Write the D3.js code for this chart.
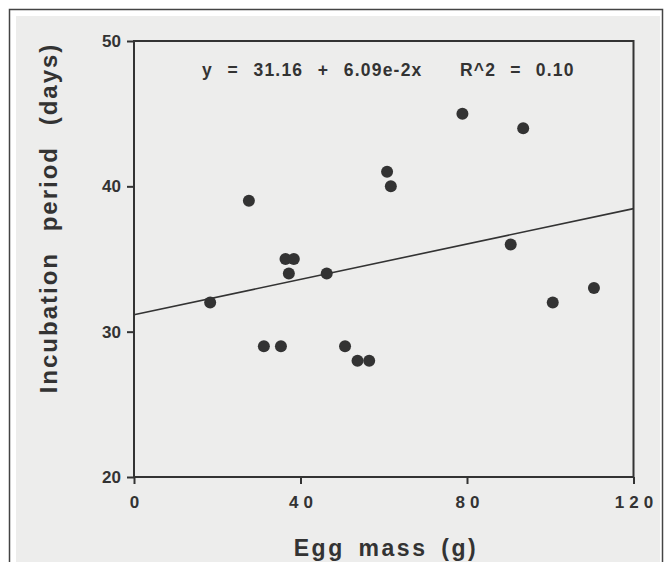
<!DOCTYPE html>
<html>
<head>
<meta charset="utf-8">
<script src="https://cdn.jsdelivr.net/npm/d3@7"></script>
<style>
  html, body { margin: 0; padding: 0; background: #ffffff; }
  svg { display: block; }
  text { font-family: "Liberation Sans", Arial, Helvetica, sans-serif; fill: #333; }
</style>
</head>
<body>
<svg id="chart" width="665" height="562"></svg>
<script>
// ---- data ----
const eggMass    = [18.3, 27.6, 31.2, 35.3, 36.4, 38.4, 37.2, 46.3, 50.7, 53.7, 56.5, 60.8, 61.7, 78.9, 93.5, 90.5, 110.5, 100.6];
const incubation = [32, 39, 29, 29, 35, 35, 34, 34, 29, 28, 28, 41, 40, 45, 44, 36, 33, 32];
const xTicks = [0, 40, 80, 120];
const yTicks = [20, 30, 40, 50];
const intercept = 31.16;
const slope = 0.0609;
const equationText = "y = 31.16 + 6.09e-2x";
const r2Text = "R^2 = 0.10";
const xTitle = "Egg mass (g)";
const yTitle = "Incubation period (days)";

const svg = d3.select("#chart");
const ink = "#333333";

// page / scan background
svg.append("rect").attr("x", 9.5).attr("y", 9.5).attr("width", 653).attr("height", 600)
  .attr("fill", "#ffffff").attr("stroke", "#444").attr("stroke-width", 1.5);
svg.append("rect").attr("x", 16).attr("y", 16).attr("width", 644).attr("height", 560)
  .attr("fill", "#ededec");

const x = d3.scaleLinear().domain([0, 120]).range([134, 633.5]);
const y = d3.scaleLinear().domain([20, 50]).range([477, 41]);

// axes
const gx = svg.append("g").attr("transform", `translate(0,${y(20)})`)
  .call(d3.axisBottom(x).tickValues(xTicks).tickSize(7).tickSizeOuter(0).tickPadding(12));
const gy = svg.append("g").attr("transform", `translate(${x(0)},0)`)
  .call(d3.axisLeft(y).tickValues(yTicks).tickSize(7).tickSizeOuter(0).tickPadding(6));

[gx, gy].forEach(g => {
  g.select(".domain").remove();
  g.selectAll(".tick line").attr("stroke", ink).attr("stroke-width", 2);
  g.selectAll(".tick text").attr("fill", ink).style("font-weight", "bold")
    .style("font-family", '"Liberation Sans", Arial, sans-serif');
});
gx.selectAll(".tick text").style("font-size", "17px").style("letter-spacing", "5px")
  .attr("dx", "2.5px");
gy.selectAll(".tick text").style("font-size", "17px");

// frame
svg.append("rect")
  .attr("x", x(0)).attr("y", y(50))
  .attr("width", x(120) - x(0)).attr("height", y(20) - y(50))
  .attr("fill", "none").attr("stroke", ink).attr("stroke-width", 2);

// regression line
svg.append("line")
  .attr("x1", x(0)).attr("y1", y(intercept + slope * 0))
  .attr("x2", x(120)).attr("y2", y(intercept + slope * 120))
  .attr("stroke", ink).attr("stroke-width", 1.6);

// points
svg.append("g").selectAll("circle")
  .data(eggMass.map((m, i) => ({ m, d: incubation[i] })))
  .join("circle")
  .attr("cx", p => x(p.m)).attr("cy", p => y(p.d)).attr("r", 6)
  .attr("fill", ink);

// equation
svg.append("text").attr("x", 202).attr("y", 76)
  .style("font-size", "17.5px").style("font-weight", "bold")
  .style("letter-spacing", "1.2px").style("word-spacing", "8.5px")
  .text(equationText);
svg.append("text").attr("x", 460).attr("y", 76)
  .style("font-size", "17.5px").style("font-weight", "bold")
  .style("letter-spacing", "1.2px").style("word-spacing", "8px")
  .text(r2Text);

// axis titles
svg.append("text").attr("x", 386).attr("y", 556).attr("text-anchor", "middle")
  .style("font-size", "23px").style("font-weight", "bold")
  .style("letter-spacing", "2.5px").style("word-spacing", "5px")
  .text(xTitle);
svg.append("text").attr("transform", "translate(57,218) rotate(-90)").attr("text-anchor", "middle")
  .style("font-size", "24px").style("font-weight", "bold")
  .style("letter-spacing", "2px").style("word-spacing", "12px")
  .text(yTitle);
</script>
</body>
</html>
